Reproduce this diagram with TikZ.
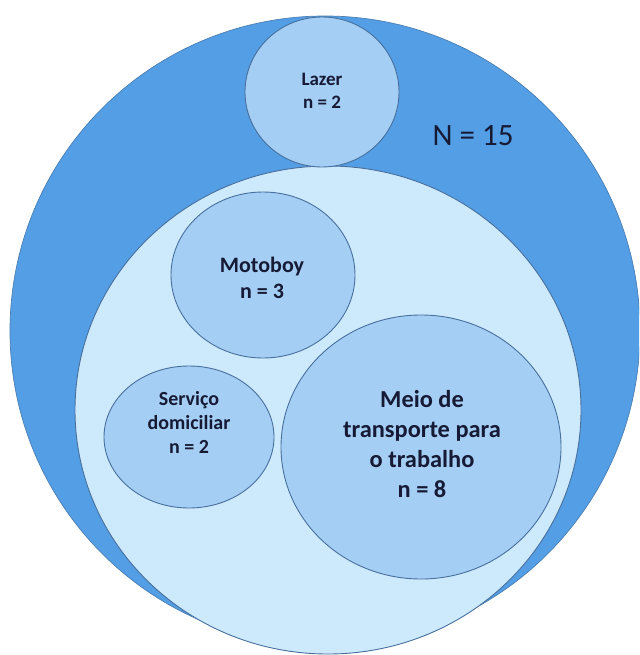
\documentclass[tikz,border=0pt]{standalone}
\usepackage{fontspec}
\setmainfont{Carlito}
\definecolor{outerblue}{RGB}{83,158,228}
\definecolor{innerblue}{RGB}{205,233,252}
\definecolor{bubbleblue}{RGB}{165,206,245}
\definecolor{edgeblue}{RGB}{72,112,158}
\definecolor{textnavy}{RGB}{22,26,52}

\begin{document}
\begin{tikzpicture}[x=1pt,y=-1pt]

    \tikzset{
      bubble/.style={
        fill=bubbleblue,
        draw=edgeblue,
        line width=0.9pt,
      },
      txt/.style={
        anchor=center,
        align=center,
        text=textnavy,
        inner sep=0pt,
      },
    }
    \useasboundingbox (0,0) rectangle (639,655);
    \clip (0,0) rectangle (639,655);
    % total and sub groups
    \filldraw [fill=outerblue, draw=edgeblue!70!outerblue, line width=0.7pt] (325,331) circle [radius=315];
    \filldraw [fill=innerblue, draw=edgeblue, line width=0.9pt] (328,410) ellipse [x radius=253, y radius=244];
    \filldraw [bubble] (322,92) ellipse [x radius=77, y radius=75];
    \filldraw [bubble] (263,275) ellipse [x radius=92, y radius=83];
    \filldraw [bubble] (189,437) ellipse [x radius=85, y radius=71];
    \filldraw [bubble] (421,447) ellipse [x radius=140, y radius=132];
	\draw [color={textnavy}] (473,136) node[txt, name=total, font=\fontsize{31}{37}\selectfont] {N = 15};
	\draw [color={textnavy}] (322,91) node[txt, name=lazer, font=\fontsize{19}{23}\selectfont\bfseries] {Lazer\\n = 2};
	\draw [color={textnavy}] (262,278) node[txt, name=motoboy, font=\fontsize{22}{26.5}\selectfont\bfseries] {Motoboy\\n = 3};
	\draw [color={textnavy}] (189,422) node[txt, name=servico, font=\fontsize{20}{24}\selectfont\bfseries] {Serviço\\domiciliar\\n = 2};
	\draw [color={textnavy}] (422,444) node[txt, name=trabalho, font=\fontsize{24.4}{30}\selectfont\bfseries] {Meio de\\transporte para\\o trabalho\\n = 8};

\end{tikzpicture}
\end{document}
